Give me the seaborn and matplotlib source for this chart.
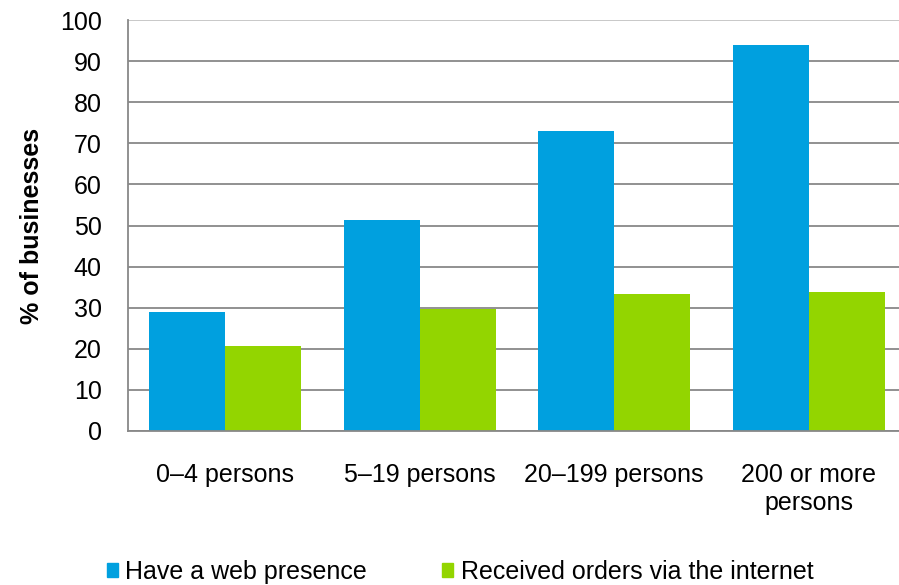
import numpy as np
import pandas as pd
import matplotlib
matplotlib.use("Agg")
import matplotlib.pyplot as plt
import seaborn as sns

categories = ["0\u20134 persons", "5\u201319 persons", "20\u2013199 persons", "200 or more\npersons"]
web_presence = [29.0, 51.3, 73.1, 94.0]
orders_internet = [20.8, 29.7, 33.4, 33.9]
series_names = ["Have a web presence", "Received orders via the internet"]
colors = ["#00A0DF", "#93D500"]

sns.set_style("white")
plt.rcParams["font.family"] = ["Liberation Sans", "DejaVu Sans"]
plt.rcParams["text.color"] = "black"
plt.rcParams["xtick.color"] = "black"
plt.rcParams["ytick.color"] = "black"
plt.rcParams["axes.labelcolor"] = "black"

df = pd.DataFrame({
    "size": categories * 2,
    "series": [series_names[0]] * 4 + [series_names[1]] * 4,
    "pct": web_presence + orders_internet,
})

fig = plt.figure(figsize=(8.99, 5.85), dpi=100)
ax = fig.add_axes([128 / 899, 154 / 585, 778 / 899, 411 / 585])

sns.barplot(data=df, x="size", y="pct", hue="series", palette=colors,
            width=0.78, saturation=1, linewidth=0, ax=ax, legend=False)

ax.set_ylim(0, 100)
ax.set_xlim(-0.5, 3.5)
ax.set_yticks(range(0, 101, 10))
ax.tick_params(axis="y", labelsize=18, length=0, pad=19)
ax.tick_params(axis="x", labelsize=18, length=0, pad=23)
ax.yaxis.grid(True, color="#888888", linewidth=1.3)
ax.get_ygridlines()[-1].set_color("#c4c4c4")
ax.set_axisbelow(True)
ax.set_xlabel("")
ax.set_ylabel("% of businesses", fontsize=18, fontweight="bold", labelpad=11)
for s in ["top", "right"]:
    ax.spines[s].set_visible(False)
for s in ["left", "bottom"]:
    ax.spines[s].set_color("#888888")
    ax.spines[s].set_linewidth(1.3)

handles = [plt.Rectangle((0, 0), 1, 1, color=c) for c in colors]
fig.legend(handles, series_names, loc="center", bbox_to_anchor=(460 / 899, 1 - 572 / 585),
           ncol=2, frameon=False, fontsize=18, handlelength=0.45, handleheight=0.45,
           handletextpad=0.3, columnspacing=3.0, borderaxespad=0, borderpad=0)

fig.savefig("out.png", dpi=100)
